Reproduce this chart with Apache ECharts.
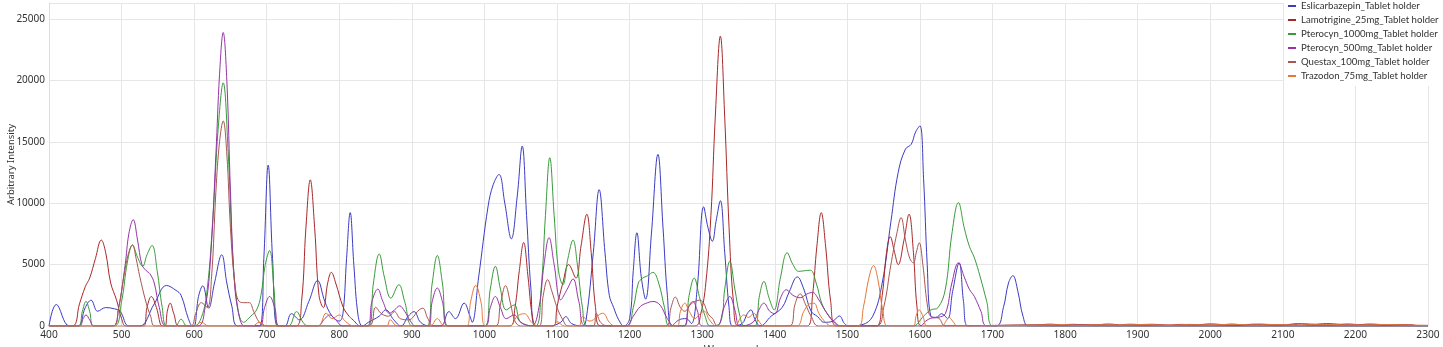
<!DOCTYPE html>
<html><head><meta charset="utf-8">
<script src="https://cdn.jsdelivr.net/npm/echarts@6/dist/echarts.min.js"></script>
<style>html,body{margin:0;padding:0;background:#fff}#c{width:1443px;height:347px}</style>
</head><body><div id="c"></div>
<script>
const seriesNames = ["Eslicarbazepin_Tablet holder","Lamotrigine_25mg_Tablet holder","Pterocyn_1000mg_Tablet holder","Pterocyn_500mg_Tablet holder","Questax_100mg_Tablet holder","Trazodon_75mg_Tablet holder"];
const seriesColors = ["#3b3bc4","#a8282a","#3a9a3a","#9434a8","#a85650","#e5773a"];
const xTicks = [400,500,600,700,800,900,1000,1100,1200,1300,1400,1500,1600,1700,1800,1900,2000,2100,2200,2300];
const yTicks = [0,5000,10000,15000,20000,25000];

const esliX = [400,410,428,440,450,458,467,478,490,498,510,525,545,562,575,582,592,598,600,606,612,620,628,638,645,652,660,690,696,702,708,715,725,734,745,758,770,780,790,800,805,810,815,820,826,832,840,855,864,875,885,895,903,912,925,940,951,960,972,980,983,992,1005,1012,1020,1028,1037,1045,1052,1058,1064,1070,1090,1105,1112,1120,1135,1140,1150,1158,1166,1172,1178,1185,1192,1200,1205,1210,1216,1222,1230,1239,1246,1252,1258,1268,1278,1285,1293,1302,1308,1314,1319,1325,1331,1337,1342,1355,1362,1367,1373,1380,1395,1410,1420,1431,1440,1450,1459,1468,1480,1489,1496,1502,1520,1535,1548,1560,1570,1580,1588,1594,1600,1605,1610,1615,1622,1630,1638,1645,1654,1660,1666,1705,1715,1722,1728,1735,1742,1750,2300];
const esliY = [0,1750,0,0,1500,2100,1200,1500,1400,1200,0,0,1800,3300,2900,2500,600,0,0,2400,3280,1450,3500,5800,3500,1600,0,0,5500,13100,5500,0,0,1000,500,2000,3700,2000,800,400,1000,5500,9230,5000,800,0,300,800,1310,500,0,800,1170,300,0,0,1170,600,1860,800,300,4000,9750,11500,12340,10000,7100,10500,14650,9000,3000,0,0,300,765,200,0,500,6000,11100,6000,2500,1500,500,0,600,4500,7600,4000,2190,7500,13970,8000,2500,0,500,600,200,3000,9700,8000,6900,8500,10200,6000,1500,0,200,1000,1310,500,0,800,1500,2800,4000,3000,1200,765,300,400,820,200,0,100,800,3500,8500,12500,14400,14800,15800,16300,12000,5000,800,700,1000,600,2800,5140,2000,0,0,1500,3500,4100,2800,800,0,0];

const lamoX = [400,432,442,450,456,464,472,478,485,493,500,506,530,535,541,548,556,560,563,567,572,580,740,748,754,760,766,772,778,784,789,795,805,812,819,830,1035,1042,1048,1054,1060,1066,1072,1095,1100,1108,1116,1126,1133,1141,1147,1153,1160,1290,1298,1305,1312,1318,1325,1331,1337,1343,1350,1445,1452,1458,1464,1470,1477,1485,1540,1548,1554,1559,1565,1570,1578,1585,1591,1596,1602,1760,1780,1800,1820,1840,1860,1880,1900,1920,1940,1960,1980,2000,2020,2040,2060,2080,2100,2120,2140,2160,2180,2200,2220,2240,2260,2280,2300];
const lamoY = [0,0,1800,3200,3900,5500,7000,6000,3500,2130,600,0,0,1500,2400,1500,0,0,1200,1860,1000,0,0,2000,8000,11900,8000,2500,1500,3500,4370,3500,1580,900,490,0,0,1500,4500,6800,4000,800,0,0,1580,3500,5000,3900,6500,9100,6000,1500,0,0,1000,3500,9000,17000,23600,17000,8000,2000,0,0,2500,6500,9230,6500,2000,0,0,2500,6000,7270,6000,5000,7000,9100,6000,1500,0,80,150,60,120,90,160,70,110,140,60,130,90,170,100,60,150,120,80,190,110,200,130,90,160,100,120,80];

const pt1000X = [400,440,446,451,456,462,490,500,508,515,522,529,535,542,549,556,562,574,582,590,600,610,618,626,633,640,647,653,660,668,678,686,692,698,704,710,716,730,741,750,757,840,847,855,862,871,882,890,901,920,928,935,942,950,1000,1008,1015,1022,1030,1041,1050,1070,1078,1084,1090,1096,1102,1108,1115,1122,1128,1135,1142,1195,1205,1212,1218,1225,1232,1240,1248,1255,1275,1282,1289,1296,1304,1311,1325,1331,1338,1345,1352,1358,1372,1379,1385,1392,1399,1408,1417,1425,1433,1441,1449,1457,1465,1475,1485,1491,1590,1605,1615,1625,1635,1644,1653,1661,1668,1675,1683,1692,1701,2300];
const pt1000Y = [0,0,1200,2000,1200,0,0,2000,5200,6580,5600,4860,5800,6560,4500,1500,0,0,550,0,0,700,3000,9000,16000,19800,14000,6000,1500,300,800,1310,2500,5000,6150,3000,0,0,1170,300,0,0,3500,5870,4000,2270,3360,2000,0,0,3500,5740,3500,0,0,3000,4860,3000,1310,1720,300,0,3000,9000,13700,9000,4500,3360,5500,7000,5000,1500,0,0,1500,3500,3900,4100,4370,3500,1500,0,0,2500,3900,2400,800,0,300,3000,5270,3000,800,0,0,2500,3630,2300,1310,4000,5960,5000,4450,4500,4540,3500,1800,800,200,0,0,800,1310,1500,3000,7500,10050,8000,6500,5550,4000,2000,0,0];

const pt500X = [400,442,447,451,456,462,488,496,505,510,516,522,528,534,539,545,552,562,605,615,622,630,635,640,645,650,655,662,670,690,697,704,711,718,770,780,787,795,805,838,845,853,860,869,876,883,890,898,905,922,928,935,942,950,1000,1008,1015,1022,1030,1041,1050,1065,1075,1082,1089,1096,1105,1114,1122,1130,1140,1195,1205,1215,1225,1232,1242,1252,1262,1275,1281,1287,1293,1300,1320,1330,1338,1345,1352,1370,1378,1385,1393,1400,1408,1416,1425,1435,1444,1452,1460,1470,1480,1490,1600,1608,1615,1625,1635,1644,1653,1661,1668,1675,1684,1693,2300];
const pt500Y = [0,0,600,900,500,0,0,1500,5000,7500,8660,7000,5000,4500,4260,3500,1500,0,0,1500,5000,14000,20500,23900,20000,11000,4000,800,0,0,1500,2400,1500,0,0,600,900,500,0,0,2000,3000,2000,1040,1300,1640,1200,400,0,0,2000,3090,2000,0,0,1500,2400,1500,600,900,300,0,1500,5000,7190,5000,2130,3000,3830,2000,0,0,800,1600,1900,2000,1700,600,0,0,1500,2000,1300,0,0,1500,2400,1300,0,300,1300,1860,1200,1000,2300,2950,2500,2300,2600,2730,2200,1200,400,0,0,400,630,700,1000,3500,5140,4000,3000,2400,1200,0,0];

const questX = [400,488,496,503,509,515,520,525,534,540,546,595,602,610,618,624,630,635,640,645,650,656,662,670,676,682,690,700,840,850,858,868,876,884,895,910,915,922,930,1015,1022,1029,1036,1042,1050,1075,1081,1087,1093,1100,1108,1115,1150,1154,1160,1170,1250,1257,1263,1270,1276,1283,1290,1296,1302,1308,1314,1322,1420,1428,1435,1442,1450,1460,1540,1550,1560,1568,1574,1580,1586,1591,1595,1599,1604,1610,1615,1626,1635,1770,1790,1810,1830,1850,1870,1890,1910,1930,1950,1970,1990,2010,2030,2050,2070,2090,2110,2130,2150,2170,2190,2210,2230,2250,2270,2290,2300];
const questY = [0,0,1500,4000,5800,6600,5500,4040,1860,800,0,0,1000,1900,1500,4000,11000,15000,16700,14000,8000,3500,2000,1900,1900,1200,300,0,0,1530,1000,800,1170,600,500,1310,1450,600,0,0,1800,3280,1800,400,0,0,2500,3770,2800,1500,500,0,0,1040,300,0,0,1500,2350,1500,1200,1700,2000,2100,1860,1000,630,0,0,1800,2620,1800,800,0,0,1500,5000,7500,8830,7000,5500,5140,6000,6780,5000,1800,765,630,0,100,60,140,80,120,70,150,90,110,60,130,100,80,160,70,140,110,90,180,120,100,170,90,130,80,110,0];

const trazX = [400,600,610,620,680,690,700,770,782,790,800,808,820,865,870,880,925,935,945,975,981,988,995,1002,1035,1045,1055,1065,1075,1095,1100,1110,1130,1135,1145,1163,1172,1180,1265,1270,1276,1282,1290,1297,1303,1310,1320,1345,1352,1357,1364,1371,1378,1385,1430,1440,1448,1454,1461,1470,1478,1515,1522,1530,1536,1542,1549,1556,1590,1595,1599,1604,1610,1630,1637,1640,1645,1652,1760,1790,1820,1850,1880,1910,1940,1970,2000,2030,2060,2090,2120,2150,2180,2210,2240,2270,2300];
const trazY = [0,0,300,0,0,300,0,0,1040,600,900,400,0,0,500,0,0,600,0,0,2000,3300,2000,0,0,800,1000,300,0,0,355,0,0,765,400,1040,300,0,0,1200,1860,1200,600,1000,1200,500,0,0,600,900,700,1040,400,0,0,1200,1800,1860,1000,300,0,0,1500,4000,4920,3800,1200,0,0,900,1310,800,0,0,500,710,400,0,60,100,50,90,70,120,60,100,80,130,70,110,60,150,90,70,120,80,60];

const xs = [esliX, lamoX, pt1000X, pt500X, questX, trazX];
const ys = [esliY, lamoY, pt1000Y, pt500Y, questY, trazY];

const chart = echarts.init(document.getElementById('c'), null, {renderer:'canvas'});
const FONT = 'Noto Sans';
chart.setOption({
  animation: false,
  backgroundColor: '#fff',
  color: seriesColors,
  grid: {left: 49, right: 15, top: 3, bottom: 21, containLabel: false, outerBoundsMode: 'none'},
  legend: {
    orient: 'vertical', left: 1284, top: 0,
    backgroundColor: '#fff', padding: [0, 30, 4, 4],
    icon: 'rect', itemWidth: 8, itemHeight: 2, itemGap: 2,
    textStyle: {fontFamily: 'Lato', fontSize: 9.6, color: '#333', lineHeight: 12},
    data: seriesNames
  },
  xAxis: {
    type: 'value', min: xTicks[0], max: xTicks[xTicks.length-1], interval: 100,
    name: 'Wavenumber', nameLocation: 'middle', nameGap: 18, nameMoveOverlap: false,
    nameTextStyle: {fontFamily: FONT, fontSize: 11, color: '#444'},
    axisLine: {show: true, lineStyle: {color: '#ccc'}},
    axisTick: {show: false},
    axisLabel: {fontFamily: FONT, fontSize: 10.2, color: '#333', margin: 4, formatter: v => String(v)},
    splitLine: {show: true, lineStyle: {color: '#e6e6e6'}}
  },
  yAxis: {
    type: 'value', min: yTicks[0], max: 26300, interval: 5000,
    name: 'Arbitrary Intensity', nameLocation: 'middle', nameGap: 33, nameMoveOverlap: false,
    nameTextStyle: {fontFamily: FONT, fontSize: 9.5, color: '#333'},
    axisLine: {show: true, lineStyle: {color: '#ddd'}},
    axisTick: {show: false},
    axisLabel: {fontFamily: FONT, fontSize: 10, color: '#333', margin: 4, showMaxLabel: false,
      formatter: v => yTicks.includes(v) ? String(v) : ''},
    splitLine: {show: true, lineStyle: {color: '#e6e6e6'}}
  },
  series: seriesNames.map((n, i) => ({
    name: n, type: 'line', smooth: 0.4, showSymbol: false, symbol: 'none',
    lineStyle: {width: 1, color: seriesColors[i]},
    itemStyle: {color: seriesColors[i]},
    clip: true,
    data: xs[i].map((x, k) => [x, ys[i][k]])
  }))
});
</script></body></html>
